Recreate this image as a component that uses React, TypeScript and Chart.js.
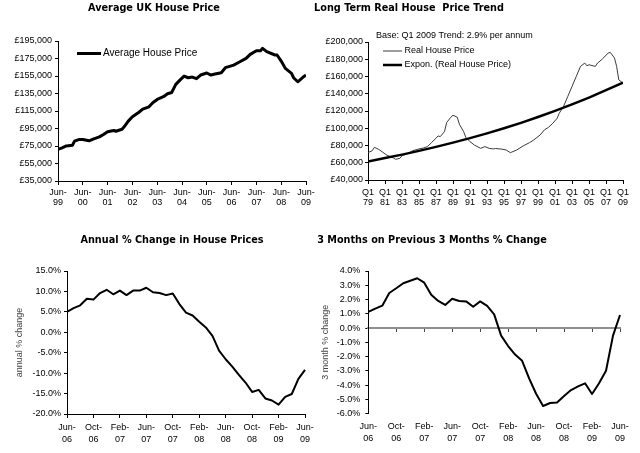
import React, { useEffect, useRef } from "react";
import { Chart, registerables } from "chart.js";

Chart.register(...registerables);

// ---------- Data ----------
// Panel 1: Average UK house price (months since Jun-99)
const priceMonths = [0, 2, 4, 7, 8, 10, 12, 15, 17, 20, 22, 24, 27, 28, 31, 32, 34, 36, 39, 41, 44, 46, 48, 51, 53, 55, 57, 59, 61, 63, 65, 67, 69, 72, 74, 76, 79, 81, 85, 88, 91, 93, 96, 98, 99, 101, 105, 106, 108, 110, 113, 114, 116, 117, 119, 120];
const avgHousePrice = [71300, 72900, 75100, 75900, 80500, 82400, 82400, 80900, 82800, 85400, 88100, 91200, 92700, 91900, 94200, 96900, 103400, 108400, 113300, 117100, 119800, 124800, 128200, 131300, 134700, 136200, 145400, 150300, 154900, 153000, 153800, 151900, 156100, 158400, 156100, 157200, 158700, 164500, 167500, 171300, 175200, 179700, 183900, 183900, 186600, 182800, 179000, 179000, 172100, 163700, 158000, 153000, 148400, 150300, 154500, 156000];
const priceTickLabels = ["Jun-99", "Jun-00", "Jun-01", "Jun-02", "Jun-03", "Jun-04", "Jun-05", "Jun-06", "Jun-07", "Jun-08", "Jun-09"];

// Panel 2: Long term real house price (quarters since Q1 79)
const realQuarters = [0, 2, 3, 5, 7, 9, 12, 13, 15, 16, 19, 21, 24, 26, 28, 30, 32, 33, 34, 36, 37, 39, 40, 42, 43, 45, 46, 48, 50, 53, 55, 57, 59, 60, 63, 65, 67, 70, 73, 76, 78, 81, 83, 85, 87, 89, 90, 92, 94, 96, 98, 100, 102, 103, 104, 107, 108, 110, 113, 114, 116, 117, 118, 120];
const realHousePrice = [71700, 74000, 77900, 75600, 72100, 68600, 65500, 64000, 65100, 68200, 70900, 74000, 76000, 77100, 78700, 83700, 88400, 91100, 90300, 96100, 106600, 112800, 115100, 112800, 104600, 96100, 89500, 84500, 80600, 76700, 78700, 76700, 76000, 76500, 75800, 74800, 71700, 74800, 79500, 83300, 86400, 92200, 98100, 101200, 105800, 111600, 117400, 125200, 136800, 148400, 160100, 171700, 175600, 172500, 173600, 171700, 175600, 179500, 187200, 188000, 181400, 171700, 156200, 152300];
const trendQuarters = [0, 8, 16, 24, 32, 40, 48, 56, 64, 72, 80, 88, 96, 104, 112, 120];
const trendHousePrice = [61500, 65400, 69400, 73800, 78400, 83300, 88600, 94100, 100000, 106300, 113000, 120100, 127600, 135600, 144100, 153000];
const realTickLabels = ["Q1 79", "Q1 81", "Q1 83", "Q1 85", "Q1 87", "Q1 89", "Q1 91", "Q1 93", "Q1 95", "Q1 97", "Q1 99", "Q1 01", "Q1 03", "Q1 05", "Q1 07", "Q1 09"];

// Panels 3 & 4: monthly Jun-06 .. Jun-09
const recentMonths = ["Jun-06", "Jul-06", "Aug-06", "Sep-06", "Oct-06", "Nov-06", "Dec-06", "Jan-07", "Feb-07", "Mar-07", "Apr-07", "May-07", "Jun-07", "Jul-07", "Aug-07", "Sep-07", "Oct-07", "Nov-07", "Dec-07", "Jan-08", "Feb-08", "Mar-08", "Apr-08", "May-08", "Jun-08", "Jul-08", "Aug-08", "Sep-08", "Oct-08", "Nov-08", "Dec-08", "Jan-09", "Feb-09", "Mar-09", "Apr-09", "May-09", "Jun-09"];
const annualChange = [5.0, 5.9, 6.6, 8.2, 8.0, 9.6, 10.4, 9.3, 10.2, 9.1, 10.2, 10.2, 10.9, 9.8, 9.6, 9.1, 9.5, 6.9, 4.8, 4.1, 2.6, 1.2, -0.9, -4.5, -6.6, -8.4, -10.4, -12.3, -14.6, -14.1, -16.2, -16.7, -17.7, -15.8, -15.1, -11.4, -9.2];
const threeMonthChange = [1.13, 1.36, 1.57, 2.46, 2.79, 3.14, 3.32, 3.49, 3.18, 2.34, 1.9, 1.62, 2.06, 1.9, 1.87, 1.5, 1.87, 1.55, 0.96, -0.53, -1.26, -1.86, -2.29, -3.52, -4.6, -5.46, -5.25, -5.21, -4.76, -4.34, -4.08, -3.87, -4.62, -3.87, -2.99, -0.53, 0.92];

// ---------- Styling helpers ----------
const SANS = "'Liberation Sans', Arial, sans-serif";
const TITLE_FONT = "bold 9.7px 'DejaVu Sans', Verdana, sans-serif";

Chart.defaults.font.family = SANS;
Chart.defaults.font.size = 9;
Chart.defaults.color = "#000";

const fixW = (w: number) => (s: any) => {
  s.width = w;
  s.paddingTop = 0; s.paddingBottom = 0; s.paddingLeft = 0; s.paddingRight = 0;
};
const fixH = (h: number) => (s: any) => {
  s.height = h;
  s.paddingTop = 0; s.paddingBottom = 0; s.paddingLeft = 0; s.paddingRight = 0;
};

type TextItem = { text: string; x: number; y: number; font: string; color?: string; align?: CanvasTextAlign };
type LegendCfg = { x1: number; x2: number; textX: number; y: number; dy: number; font: string };

function makeDecor(texts: TextItem[], legend?: LegendCfg) {
  return {
    id: "decor",
    afterDraw(chart: any) {
      const ctx: CanvasRenderingContext2D = chart.ctx;
      ctx.save();
      ctx.textBaseline = "middle";
      for (const t of texts) {
        ctx.font = t.font;
        ctx.fillStyle = t.color || "#000";
        ctx.textAlign = t.align || "center";
        ctx.fillText(t.text, t.x, t.y);
      }
      if (legend) {
        chart.data.datasets.forEach((ds: any, i: number) => {
          const y = legend.y + i * legend.dy;
          ctx.strokeStyle = ds.borderColor;
          ctx.lineWidth = ds.borderWidth;
          ctx.lineCap = "butt";
          ctx.beginPath();
          ctx.moveTo(legend.x1, y);
          ctx.lineTo(legend.x2, y);
          ctx.stroke();
          ctx.font = legend.font;
          ctx.fillStyle = "#000";
          ctx.textAlign = "left";
          ctx.fillText(ds.label, legend.textX, y);
        });
      }
      ctx.restore();
    },
  };
}

const yAxisBase = (w: number, min: number, max: number, step: number, fmt: (v: number) => string, pad = 3) => ({
  min,
  max,
  afterFit: fixW(w),
  border: { display: true, color: "#000", width: 1 },
  grid: { drawOnChartArea: false, tickLength: 3, color: "#000" },
  ticks: { stepSize: step, padding: pad, font: { size: 9 }, color: "#000", callback: (v: any) => fmt(Number(v)) },
});

const commonOpts = (pad: any) => ({
  animation: false as const,
  responsive: true,
  maintainAspectRatio: false,
  layout: { padding: pad },
  plugins: { legend: { display: false }, tooltip: { enabled: false }, title: { display: false } },
  elements: { point: { radius: 0 }, line: { tension: 0, borderJoinStyle: "round" as const } },
});

const pounds = (v: number) => "£" + Math.round(v).toLocaleString("en-GB");
const pct = (v: number) => v.toFixed(1) + "%";

function split2(label: string, at: number) {
  return [label.slice(0, at), label.slice(at)];
}

// ---------- Chart configs ----------
function avgPriceConfig(): any {
  return {
    type: "line",
    data: {
      datasets: [
        {
          label: "Average House Price",
          data: priceMonths.map((m, i) => ({ x: m, y: avgHousePrice[i] })),
          borderColor: "#000",
          borderWidth: 3,
          pointRadius: 0,
        },
      ],
    },
    options: {
      ...commonOpts({ left: 0, top: 41, right: 14, bottom: 0 }),
      scales: {
        x: {
          type: "linear",
          min: 0,
          max: 120,
          afterFit: fixH(45),
          border: { display: true, color: "#000", width: 1 },
          grid: { drawOnChartArea: false, tickLength: 4, color: "#000" },
          ticks: {
            stepSize: 12,
            maxRotation: 0,
            autoSkip: false,
            padding: 3,
            font: { size: 9, lineHeight: 1.111 },
            color: "#000",
            callback: (v: any) => {
              const l = priceTickLabels[Math.round(Number(v) / 12)];
              return l ? split2(l, 4) : "";
            },
          },
        },
        y: yAxisBase(58, 35000, 195000, 20000, pounds, 3),
      },
    },
    plugins: [
      makeDecor(
        [{ text: "Average UK House Price", x: 154, y: 8, font: TITLE_FONT }],
        { x1: 77, x2: 101, textX: 103, y: 53.5, dy: 0, font: `10px ${SANS}` }
      ),
    ],
  };
}

// right-hand panels use a canvas starting at x=300 so their titles can overhang
function realPriceConfig(): any {
  return {
    type: "line",
    data: {
      datasets: [
        {
          label: "Real House Price",
          data: realQuarters.map((q, i) => ({ x: q, y: realHousePrice[i] })),
          borderColor: "#3a3a3a",
          borderWidth: 1,
          pointRadius: 0,
          order: 1,
        },
        {
          label: "Expon. (Real House Price)",
          data: trendQuarters.map((q, i) => ({ x: q, y: trendHousePrice[i] })),
          borderColor: "#000",
          borderWidth: 2.5,
          pointRadius: 0,
          order: 0,
        },
      ],
    },
    options: {
      ...commonOpts({ left: 0, top: 42, right: 17, bottom: 0 }),
      scales: {
        x: {
          type: "linear",
          min: 0,
          max: 120,
          afterFit: fixH(46),
          border: { display: true, color: "#000", width: 1 },
          grid: { drawOnChartArea: false, tickLength: 4, color: "#000" },
          ticks: {
            stepSize: 8,
            maxRotation: 0,
            autoSkip: false,
            padding: 4,
            font: { size: 9, lineHeight: 1.111 },
            color: "#000",
            callback: (v: any) => {
              const l = realTickLabels[Math.round(Number(v) / 8)];
              return l ? l.split(" ") : "";
            },
          },
        },
        y: yAxisBase(68, 40000, 200000, 20000, pounds, 2),
      },
    },
    plugins: [
      makeDecor(
        [
          { text: "Long Term Real House  Price Trend", x: 109, y: 8, font: TITLE_FONT },
          { text: "Base: Q1 2009 Trend: 2.9% per annum", x: 76, y: 36, font: `9px ${SANS}`, align: "left" },
        ],
        { x1: 83, x2: 102, textX: 104.5, y: 51, dy: 14, font: `9px ${SANS}` }
      ),
    ],
  };
}

const monthTickCb = (v: any, i: number) => (i % 4 === 0 ? split2(recentMonths[i], 4) : "");
const monthTickColor = (c: any) => (c.index % 4 === 0 ? "#000" : "rgba(0,0,0,0)");

function annualConfig(): any {
  return {
    type: "line",
    data: {
      labels: recentMonths,
      datasets: [
        { label: "annual % change", data: annualChange, borderColor: "#000", borderWidth: 2, pointRadius: 0 },
      ],
    },
    options: {
      ...commonOpts({ left: 0, top: 45, right: 15, bottom: 0 }),
      scales: {
        x: {
          type: "category",
          afterFit: fixH(39),
          border: { display: true, color: "#000", width: 1 },
          grid: { drawOnChartArea: false, tickLength: 4, color: monthTickColor },
          ticks: {
            autoSkip: false,
            maxRotation: 0,
            padding: 3,
            font: { size: 9, lineHeight: 1.35 },
            color: "#000",
            callback: monthTickCb,
          },
        },
        y: {
          ...yAxisBase(67, -20, 15, 5, pct, 3),
          title: {
            display: true,
            text: "annual % change",
            color: "#444",
            font: { size: 9 },
            padding: { top: 14.6, bottom: 0 },
          },
        },
      },
    },
    plugins: [makeDecor([{ text: "Annual % Change in House Prices", x: 172, y: 14, font: TITLE_FONT }])],
  };
}

function threeMonthConfig(): any {
  return {
    type: "line",
    data: {
      labels: recentMonths,
      datasets: [
        { label: "3 month % change", data: threeMonthChange, borderColor: "#000", borderWidth: 2, pointRadius: 0 },
      ],
    },
    options: {
      ...commonOpts({ left: 0, top: 45, right: 20, bottom: 0 }),
      scales: {
        x: {
          type: "category",
          afterFit: fixH(39.3),
          border: { display: false },
          grid: { drawOnChartArea: false, tickLength: 4, color: "rgba(0,0,0,0)" },
          ticks: {
            autoSkip: false,
            maxRotation: 0,
            padding: 3,
            font: { size: 9, lineHeight: 1.3 },
            color: "#000",
            callback: monthTickCb,
          },
        },
        xZero: {
          type: "category",
          axis: "x",
          position: { y: 0 },
          afterFit: fixH(0),
          border: { display: true, color: "#8f8f8f", width: 2 },
          grid: { drawOnChartArea: false, drawTicks: true, tickLength: 3, color: (c: any) => (c.index % 4 === 0 ? "#444" : "rgba(0,0,0,0)") },
          ticks: { display: false, autoSkip: false },
        },
        y: {
          ...yAxisBase(68.3, -6, 4, 1, pct, 5),
          title: {
            display: true,
            text: "3 month % change",
            color: "#444",
            font: { size: 9 },
            padding: { top: 20.6, bottom: 0 },
          },
        },
      },
    },
    plugins: [makeDecor([{ text: "3 Months on Previous 3 Months % Change", x: 132, y: 14, font: TITLE_FONT }])],
  };
}

// ---------- Components ----------
function Panel(props: { left: number; top: number; width: number; height: number; make: () => any }) {
  const ref = useRef<HTMLCanvasElement>(null);
  useEffect(() => {
    const chart = new Chart(ref.current as HTMLCanvasElement, props.make());
    return () => chart.destroy();
  }, []);
  return (
    <div style={{ position: "absolute", left: props.left, top: props.top, width: props.width, height: props.height }}>
      <canvas ref={ref} />
    </div>
  );
}

export default function App() {
  return (
    <div style={{ position: "absolute", left: 0, top: 0, width: 640, height: 453, background: "#fff", overflow: "hidden" }}>
      <Panel left={0} top={0} width={320} height={226} make={avgPriceConfig} />
      <Panel left={300} top={0} width={340} height={226} make={realPriceConfig} />
      <Panel left={0} top={226} width={320} height={227} make={annualConfig} />
      <Panel left={300} top={226} width={340} height={227} make={threeMonthConfig} />
    </div>
  );
}
